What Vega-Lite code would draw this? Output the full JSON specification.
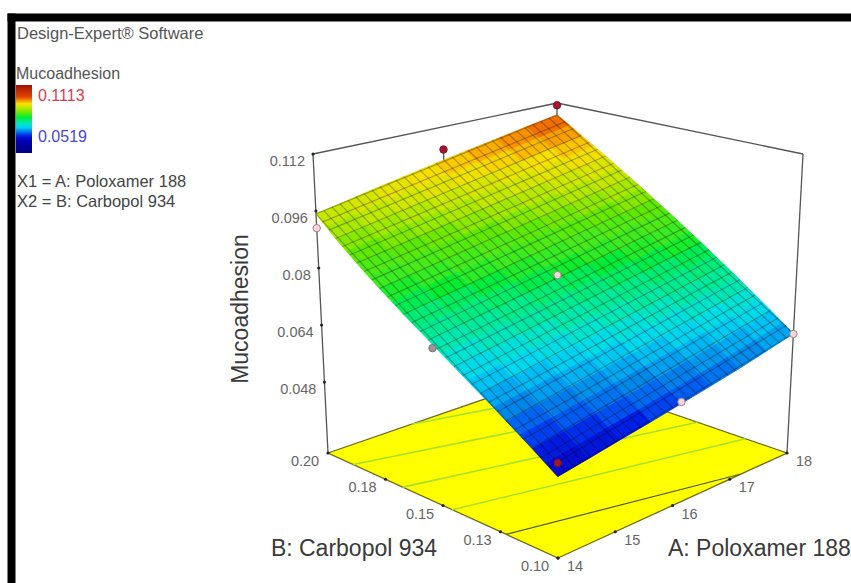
{"$schema":"https://vega.github.io/schema/vega-lite/v6.json","width":840,"height":566,"autosize":{"type":"none"},"padding":{"left":11,"top":17,"right":0,"bottom":0},"background":"white","config":{"view":{"stroke":null},"font":"Liberation Sans"},
"title":{"text":"Design-Expert® Software","subtitle":["X1 = A: Poloxamer 188","X2 = B: Carbopol 934"],"anchor":"start","frame":"group","offset":-193,"dx":6,"font":"Liberation Sans","fontSize":16.5,"fontWeight":"normal","color":"#555555","subtitleFont":"Liberation Sans","subtitleFontSize":16.5,"subtitleColor":"#444444","subtitlePadding":131,"subtitleLineHeight":20},
"data":{"values":[
{"k":"f","a":14,"b":0.1,"z":0.0281,"o":0},{"k":"f","a":18,"b":0.1,"z":0.0281,"o":1},{"k":"f","a":18,"b":0.2,"z":0.0281,"o":2},{"k":"f","a":14,"b":0.2,"z":0.0281,"o":3},
{"k":"c","a":14,"b":0.146,"z":0.0281,"a2":18,"b2":0.118,"z2":0.0281},{"k":"c","a":14,"b":0.1675,"z":0.0281,"a2":18,"b2":0.139,"z2":0.0281},{"k":"c","a":14,"b":0.189,"z":0.0281,"a2":18,"b2":0.161,"z2":0.0281},{"k":"c","a":15.46,"b":0.2,"z":0.0281,"a2":18,"b2":0.1822,"z2":0.0281},
{"k":"d","a":14,"b":0.1225,"z":0.0281,"a2":17.2,"b2":0.1,"z2":0.0281},
{"k":"e","a":14,"b":0.2,"z":0.0281,"a2":14,"b2":0.2,"z2":0.112},{"k":"e","a":18,"b":0.1,"z":0.0281,"a2":18,"b2":0.1,"z2":0.112},{"k":"e","a":14,"b":0.2,"z":0.112,"a2":18,"b2":0.2,"z2":0.112},{"k":"e","a":18,"b":0.2,"z":0.112,"a2":18,"b2":0.1,"z2":0.112},
{"k":"e","a":16.13,"b":0.2,"z":0.1053,"a2":16.13,"b2":0.2,"z2":0.1},{"k":"e","a":18,"b":0.2,"z":0.1113,"a2":18,"b2":0.2,"z2":0.1083},
{"k":"s","a":14,"b":0.1,"z":0.0485},{"k":"s","a":14.5,"b":0.1,"z":0.0501},{"k":"s","a":15,"b":0.1,"z":0.0518},{"k":"s","a":15.5,"b":0.1,"z":0.0534},{"k":"s","a":16,"b":0.1,"z":0.0551},{"k":"s","a":16.5,"b":0.1,"z":0.0567},{"k":"s","a":17,"b":0.1,"z":0.0583},{"k":"s","a":17.5,"b":0.1,"z":0.06},{"k":"s","a":18,"b":0.1,"z":0.0616},
{"k":"s","a":14,"b":0.105,"z":0.0508},{"k":"s","a":14.5,"b":0.105,"z":0.0524},{"k":"s","a":15,"b":0.105,"z":0.0541},{"k":"s","a":15.5,"b":0.105,"z":0.0557},{"k":"s","a":16,"b":0.105,"z":0.0574},{"k":"s","a":16.5,"b":0.105,"z":0.059},{"k":"s","a":17,"b":0.105,"z":0.0606},{"k":"s","a":17.5,"b":0.105,"z":0.0623},{"k":"s","a":18,"b":0.105,"z":0.0639},
{"k":"s","a":14,"b":0.11,"z":0.0532},{"k":"s","a":14.5,"b":0.11,"z":0.0548},{"k":"s","a":15,"b":0.11,"z":0.0565},{"k":"s","a":15.5,"b":0.11,"z":0.0581},{"k":"s","a":16,"b":0.11,"z":0.0598},{"k":"s","a":16.5,"b":0.11,"z":0.0614},{"k":"s","a":17,"b":0.11,"z":0.063},{"k":"s","a":17.5,"b":0.11,"z":0.0647},{"k":"s","a":18,"b":0.11,"z":0.0663},
{"k":"s","a":14,"b":0.115,"z":0.0555},{"k":"s","a":14.5,"b":0.115,"z":0.0571},{"k":"s","a":15,"b":0.115,"z":0.0588},{"k":"s","a":15.5,"b":0.115,"z":0.0604},{"k":"s","a":16,"b":0.115,"z":0.0621},{"k":"s","a":16.5,"b":0.115,"z":0.0637},{"k":"s","a":17,"b":0.115,"z":0.0653},{"k":"s","a":17.5,"b":0.115,"z":0.067},{"k":"s","a":18,"b":0.115,"z":0.0686},
{"k":"s","a":14,"b":0.12,"z":0.0578},{"k":"s","a":14.5,"b":0.12,"z":0.0594},{"k":"s","a":15,"b":0.12,"z":0.0611},{"k":"s","a":15.5,"b":0.12,"z":0.0627},{"k":"s","a":16,"b":0.12,"z":0.0644},{"k":"s","a":16.5,"b":0.12,"z":0.066},{"k":"s","a":17,"b":0.12,"z":0.0676},{"k":"s","a":17.5,"b":0.12,"z":0.0693},{"k":"s","a":18,"b":0.12,"z":0.0709},
{"k":"s","a":14,"b":0.125,"z":0.0602},{"k":"s","a":14.5,"b":0.125,"z":0.0618},{"k":"s","a":15,"b":0.125,"z":0.0635},{"k":"s","a":15.5,"b":0.125,"z":0.0651},{"k":"s","a":16,"b":0.125,"z":0.0668},{"k":"s","a":16.5,"b":0.125,"z":0.0684},{"k":"s","a":17,"b":0.125,"z":0.07},{"k":"s","a":17.5,"b":0.125,"z":0.0717},{"k":"s","a":18,"b":0.125,"z":0.0733},
{"k":"s","a":14,"b":0.13,"z":0.0625},{"k":"s","a":14.5,"b":0.13,"z":0.0641},{"k":"s","a":15,"b":0.13,"z":0.0658},{"k":"s","a":15.5,"b":0.13,"z":0.0674},{"k":"s","a":16,"b":0.13,"z":0.0691},{"k":"s","a":16.5,"b":0.13,"z":0.0707},{"k":"s","a":17,"b":0.13,"z":0.0723},{"k":"s","a":17.5,"b":0.13,"z":0.074},{"k":"s","a":18,"b":0.13,"z":0.0756},
{"k":"s","a":14,"b":0.135,"z":0.0648},{"k":"s","a":14.5,"b":0.135,"z":0.0664},{"k":"s","a":15,"b":0.135,"z":0.0681},{"k":"s","a":15.5,"b":0.135,"z":0.0697},{"k":"s","a":16,"b":0.135,"z":0.0714},{"k":"s","a":16.5,"b":0.135,"z":0.073},{"k":"s","a":17,"b":0.135,"z":0.0746},{"k":"s","a":17.5,"b":0.135,"z":0.0763},{"k":"s","a":18,"b":0.135,"z":0.0779},
{"k":"s","a":14,"b":0.14,"z":0.0672},{"k":"s","a":14.5,"b":0.14,"z":0.0688},{"k":"s","a":15,"b":0.14,"z":0.0705},{"k":"s","a":15.5,"b":0.14,"z":0.0721},{"k":"s","a":16,"b":0.14,"z":0.0738},{"k":"s","a":16.5,"b":0.14,"z":0.0754},{"k":"s","a":17,"b":0.14,"z":0.077},{"k":"s","a":17.5,"b":0.14,"z":0.0787},{"k":"s","a":18,"b":0.14,"z":0.0803},
{"k":"s","a":14,"b":0.145,"z":0.0695},{"k":"s","a":14.5,"b":0.145,"z":0.0711},{"k":"s","a":15,"b":0.145,"z":0.0728},{"k":"s","a":15.5,"b":0.145,"z":0.0744},{"k":"s","a":16,"b":0.145,"z":0.0761},{"k":"s","a":16.5,"b":0.145,"z":0.0777},{"k":"s","a":17,"b":0.145,"z":0.0793},{"k":"s","a":17.5,"b":0.145,"z":0.081},{"k":"s","a":18,"b":0.145,"z":0.0826},
{"k":"s","a":14,"b":0.15,"z":0.0719},{"k":"s","a":14.5,"b":0.15,"z":0.0735},{"k":"s","a":15,"b":0.15,"z":0.0752},{"k":"s","a":15.5,"b":0.15,"z":0.0768},{"k":"s","a":16,"b":0.15,"z":0.0785},{"k":"s","a":16.5,"b":0.15,"z":0.0801},{"k":"s","a":17,"b":0.15,"z":0.0817},{"k":"s","a":17.5,"b":0.15,"z":0.0834},{"k":"s","a":18,"b":0.15,"z":0.085},
{"k":"s","a":14,"b":0.155,"z":0.0742},{"k":"s","a":14.5,"b":0.155,"z":0.0758},{"k":"s","a":15,"b":0.155,"z":0.0775},{"k":"s","a":15.5,"b":0.155,"z":0.0791},{"k":"s","a":16,"b":0.155,"z":0.0808},{"k":"s","a":16.5,"b":0.155,"z":0.0824},{"k":"s","a":17,"b":0.155,"z":0.084},{"k":"s","a":17.5,"b":0.155,"z":0.0857},{"k":"s","a":18,"b":0.155,"z":0.0873},
{"k":"s","a":14,"b":0.16,"z":0.0765},{"k":"s","a":14.5,"b":0.16,"z":0.0781},{"k":"s","a":15,"b":0.16,"z":0.0798},{"k":"s","a":15.5,"b":0.16,"z":0.0814},{"k":"s","a":16,"b":0.16,"z":0.0831},{"k":"s","a":16.5,"b":0.16,"z":0.0847},{"k":"s","a":17,"b":0.16,"z":0.0863},{"k":"s","a":17.5,"b":0.16,"z":0.088},{"k":"s","a":18,"b":0.16,"z":0.0896},
{"k":"s","a":14,"b":0.165,"z":0.0789},{"k":"s","a":14.5,"b":0.165,"z":0.0805},{"k":"s","a":15,"b":0.165,"z":0.0822},{"k":"s","a":15.5,"b":0.165,"z":0.0838},{"k":"s","a":16,"b":0.165,"z":0.0855},{"k":"s","a":16.5,"b":0.165,"z":0.0871},{"k":"s","a":17,"b":0.165,"z":0.0887},{"k":"s","a":17.5,"b":0.165,"z":0.0904},{"k":"s","a":18,"b":0.165,"z":0.092},
{"k":"s","a":14,"b":0.17,"z":0.0812},{"k":"s","a":14.5,"b":0.17,"z":0.0828},{"k":"s","a":15,"b":0.17,"z":0.0845},{"k":"s","a":15.5,"b":0.17,"z":0.0861},{"k":"s","a":16,"b":0.17,"z":0.0878},{"k":"s","a":16.5,"b":0.17,"z":0.0894},{"k":"s","a":17,"b":0.17,"z":0.091},{"k":"s","a":17.5,"b":0.17,"z":0.0927},{"k":"s","a":18,"b":0.17,"z":0.0943},
{"k":"s","a":14,"b":0.175,"z":0.0835},{"k":"s","a":14.5,"b":0.175,"z":0.0851},{"k":"s","a":15,"b":0.175,"z":0.0868},{"k":"s","a":15.5,"b":0.175,"z":0.0884},{"k":"s","a":16,"b":0.175,"z":0.0901},{"k":"s","a":16.5,"b":0.175,"z":0.0917},{"k":"s","a":17,"b":0.175,"z":0.0933},{"k":"s","a":17.5,"b":0.175,"z":0.095},{"k":"s","a":18,"b":0.175,"z":0.0966},
{"k":"s","a":14,"b":0.18,"z":0.0859},{"k":"s","a":14.5,"b":0.18,"z":0.0875},{"k":"s","a":15,"b":0.18,"z":0.0892},{"k":"s","a":15.5,"b":0.18,"z":0.0908},{"k":"s","a":16,"b":0.18,"z":0.0925},{"k":"s","a":16.5,"b":0.18,"z":0.0941},{"k":"s","a":17,"b":0.18,"z":0.0957},{"k":"s","a":17.5,"b":0.18,"z":0.0974},{"k":"s","a":18,"b":0.18,"z":0.099},
{"k":"s","a":14,"b":0.185,"z":0.0882},{"k":"s","a":14.5,"b":0.185,"z":0.0898},{"k":"s","a":15,"b":0.185,"z":0.0915},{"k":"s","a":15.5,"b":0.185,"z":0.0931},{"k":"s","a":16,"b":0.185,"z":0.0948},{"k":"s","a":16.5,"b":0.185,"z":0.0964},{"k":"s","a":17,"b":0.185,"z":0.098},{"k":"s","a":17.5,"b":0.185,"z":0.0997},{"k":"s","a":18,"b":0.185,"z":0.1013},
{"k":"s","a":14,"b":0.19,"z":0.0905},{"k":"s","a":14.5,"b":0.19,"z":0.0921},{"k":"s","a":15,"b":0.19,"z":0.0938},{"k":"s","a":15.5,"b":0.19,"z":0.0954},{"k":"s","a":16,"b":0.19,"z":0.0971},{"k":"s","a":16.5,"b":0.19,"z":0.0987},{"k":"s","a":17,"b":0.19,"z":0.1003},{"k":"s","a":17.5,"b":0.19,"z":0.102},{"k":"s","a":18,"b":0.19,"z":0.1036},
{"k":"s","a":14,"b":0.195,"z":0.0929},{"k":"s","a":14.5,"b":0.195,"z":0.0945},{"k":"s","a":15,"b":0.195,"z":0.0962},{"k":"s","a":15.5,"b":0.195,"z":0.0978},{"k":"s","a":16,"b":0.195,"z":0.0995},{"k":"s","a":16.5,"b":0.195,"z":0.1011},{"k":"s","a":17,"b":0.195,"z":0.1027},{"k":"s","a":17.5,"b":0.195,"z":0.1044},{"k":"s","a":18,"b":0.195,"z":0.106},
{"k":"s","a":14,"b":0.2,"z":0.0952},{"k":"s","a":14.5,"b":0.2,"z":0.0968},{"k":"s","a":15,"b":0.2,"z":0.0985},{"k":"s","a":15.5,"b":0.2,"z":0.1001},{"k":"s","a":16,"b":0.2,"z":0.1018},{"k":"s","a":16.5,"b":0.2,"z":0.1034},{"k":"s","a":17,"b":0.2,"z":0.105},{"k":"s","a":17.5,"b":0.2,"z":0.1067},{"k":"s","a":18,"b":0.2,"z":0.1083},
{"k":"m","a":14,"b":0.1,"z":0.0485,"a2":14,"b2":0.2,"z2":0.0952},{"k":"m","a":14.133,"b":0.1,"z":0.0489,"a2":14.133,"b2":0.2,"z2":0.0956},{"k":"m","a":14.267,"b":0.1,"z":0.0494,"a2":14.267,"b2":0.2,"z2":0.0961},{"k":"m","a":14.4,"b":0.1,"z":0.0498,"a2":14.4,"b2":0.2,"z2":0.0965},{"k":"m","a":14.533,"b":0.1,"z":0.0502,"a2":14.533,"b2":0.2,"z2":0.0969},{"k":"m","a":14.667,"b":0.1,"z":0.0507,"a2":14.667,"b2":0.2,"z2":0.0974},{"k":"m","a":14.8,"b":0.1,"z":0.0511,"a2":14.8,"b2":0.2,"z2":0.0978},{"k":"m","a":14.933,"b":0.1,"z":0.0516,"a2":14.933,"b2":0.2,"z2":0.0983},{"k":"m","a":15.067,"b":0.1,"z":0.052,"a2":15.067,"b2":0.2,"z2":0.0987},{"k":"m","a":15.2,"b":0.1,"z":0.0524,"a2":15.2,"b2":0.2,"z2":0.0991},{"k":"m","a":15.333,"b":0.1,"z":0.0529,"a2":15.333,"b2":0.2,"z2":0.0996},{"k":"m","a":15.467,"b":0.1,"z":0.0533,"a2":15.467,"b2":0.2,"z2":0.1},{"k":"m","a":15.6,"b":0.1,"z":0.0537,"a2":15.6,"b2":0.2,"z2":0.1004},{"k":"m","a":15.733,"b":0.1,"z":0.0542,"a2":15.733,"b2":0.2,"z2":0.1009},{"k":"m","a":15.867,"b":0.1,"z":0.0546,"a2":15.867,"b2":0.2,"z2":0.1013},{"k":"m","a":16,"b":0.1,"z":0.0551,"a2":16,"b2":0.2,"z2":0.1018},{"k":"m","a":16.133,"b":0.1,"z":0.0555,"a2":16.133,"b2":0.2,"z2":0.1022},{"k":"m","a":16.267,"b":0.1,"z":0.0559,"a2":16.267,"b2":0.2,"z2":0.1026},{"k":"m","a":16.4,"b":0.1,"z":0.0564,"a2":16.4,"b2":0.2,"z2":0.1031},{"k":"m","a":16.533,"b":0.1,"z":0.0568,"a2":16.533,"b2":0.2,"z2":0.1035},{"k":"m","a":16.667,"b":0.1,"z":0.0572,"a2":16.667,"b2":0.2,"z2":0.1039},{"k":"m","a":16.8,"b":0.1,"z":0.0577,"a2":16.8,"b2":0.2,"z2":0.1044},{"k":"m","a":16.933,"b":0.1,"z":0.0581,"a2":16.933,"b2":0.2,"z2":0.1048},{"k":"m","a":17.067,"b":0.1,"z":0.0586,"a2":17.067,"b2":0.2,"z2":0.1053},{"k":"m","a":17.2,"b":0.1,"z":0.059,"a2":17.2,"b2":0.2,"z2":0.1057},{"k":"m","a":17.333,"b":0.1,"z":0.0594,"a2":17.333,"b2":0.2,"z2":0.1061},{"k":"m","a":17.467,"b":0.1,"z":0.0599,"a2":17.467,"b2":0.2,"z2":0.1066},{"k":"m","a":17.6,"b":0.1,"z":0.0603,"a2":17.6,"b2":0.2,"z2":0.107},{"k":"m","a":17.733,"b":0.1,"z":0.0607,"a2":17.733,"b2":0.2,"z2":0.1074},{"k":"m","a":17.867,"b":0.1,"z":0.0612,"a2":17.867,"b2":0.2,"z2":0.1079},{"k":"m","a":18,"b":0.1,"z":0.0616,"a2":18,"b2":0.2,"z2":0.1083},
{"k":"m","a":14,"b":0.1,"z":0.0485,"a2":18,"b2":0.1,"z2":0.0616},{"k":"m","a":14,"b":0.1033,"z":0.0501,"a2":18,"b2":0.1033,"z2":0.0632},{"k":"m","a":14,"b":0.1067,"z":0.0516,"a2":18,"b2":0.1067,"z2":0.0647},{"k":"m","a":14,"b":0.11,"z":0.0532,"a2":18,"b2":0.11,"z2":0.0663},{"k":"m","a":14,"b":0.1133,"z":0.0547,"a2":18,"b2":0.1133,"z2":0.0678},{"k":"m","a":14,"b":0.1167,"z":0.0563,"a2":18,"b2":0.1167,"z2":0.0694},{"k":"m","a":14,"b":0.12,"z":0.0578,"a2":18,"b2":0.12,"z2":0.0709},{"k":"m","a":14,"b":0.1233,"z":0.0594,"a2":18,"b2":0.1233,"z2":0.0725},{"k":"m","a":14,"b":0.1267,"z":0.061,"a2":18,"b2":0.1267,"z2":0.0741},{"k":"m","a":14,"b":0.13,"z":0.0625,"a2":18,"b2":0.13,"z2":0.0756},{"k":"m","a":14,"b":0.1333,"z":0.0641,"a2":18,"b2":0.1333,"z2":0.0772},{"k":"m","a":14,"b":0.1367,"z":0.0656,"a2":18,"b2":0.1367,"z2":0.0787},{"k":"m","a":14,"b":0.14,"z":0.0672,"a2":18,"b2":0.14,"z2":0.0803},{"k":"m","a":14,"b":0.1433,"z":0.0687,"a2":18,"b2":0.1433,"z2":0.0818},{"k":"m","a":14,"b":0.1467,"z":0.0703,"a2":18,"b2":0.1467,"z2":0.0834},{"k":"m","a":14,"b":0.15,"z":0.0719,"a2":18,"b2":0.15,"z2":0.085},{"k":"m","a":14,"b":0.1533,"z":0.0734,"a2":18,"b2":0.1533,"z2":0.0865},{"k":"m","a":14,"b":0.1567,"z":0.075,"a2":18,"b2":0.1567,"z2":0.0881},{"k":"m","a":14,"b":0.16,"z":0.0765,"a2":18,"b2":0.16,"z2":0.0896},{"k":"m","a":14,"b":0.1633,"z":0.0781,"a2":18,"b2":0.1633,"z2":0.0912},{"k":"m","a":14,"b":0.1667,"z":0.0796,"a2":18,"b2":0.1667,"z2":0.0927},{"k":"m","a":14,"b":0.17,"z":0.0812,"a2":18,"b2":0.17,"z2":0.0943},{"k":"m","a":14,"b":0.1733,"z":0.0828,"a2":18,"b2":0.1733,"z2":0.0959},{"k":"m","a":14,"b":0.1767,"z":0.0843,"a2":18,"b2":0.1767,"z2":0.0974},{"k":"m","a":14,"b":0.18,"z":0.0859,"a2":18,"b2":0.18,"z2":0.099},{"k":"m","a":14,"b":0.1833,"z":0.0874,"a2":18,"b2":0.1833,"z2":0.1005},{"k":"m","a":14,"b":0.1867,"z":0.089,"a2":18,"b2":0.1867,"z2":0.1021},{"k":"m","a":14,"b":0.19,"z":0.0905,"a2":18,"b2":0.19,"z2":0.1036},{"k":"m","a":14,"b":0.1933,"z":0.0921,"a2":18,"b2":0.1933,"z2":0.1052},{"k":"m","a":14,"b":0.1967,"z":0.0936,"a2":18,"b2":0.1967,"z2":0.1067},{"k":"m","a":14,"b":0.2,"z":0.0952,"a2":18,"b2":0.2,"z2":0.1083},
{"k":"p","a":18,"b":0.2,"z":0.1113,"g":"above"},{"k":"p","a":16.13,"b":0.2,"z":0.1053,"g":"above"},{"k":"p","a":14,"b":0.1,"z":0.0519,"g":"above"},{"k":"p","a":14,"b":0.2,"z":0.0912,"g":"below"},{"k":"p","a":14.05,"b":0.15,"z":0.0695,"g":"hidden"},{"k":"p","a":16,"b":0.15,"z":0.0795,"g":"below"},{"k":"p","a":18,"b":0.1,"z":0.0615,"g":"below"},{"k":"p","a":16,"b":0.1,"z":0.0555,"g":"below"},
{"k":"tz","a":14,"b":0.2,"z":0.112,"t":"0.112"},{"k":"tz","a":14,"b":0.2,"z":0.096,"t":"0.096"},{"k":"tz","a":14,"b":0.2,"z":0.08,"t":"0.08"},{"k":"tz","a":14,"b":0.2,"z":0.064,"t":"0.064"},{"k":"tz","a":14,"b":0.2,"z":0.048,"t":"0.048"},
{"k":"tb","a":14,"b":0.2,"z":0.0281,"t":"0.20"},{"k":"tb","a":14,"b":0.175,"z":0.0281,"t":"0.18"},{"k":"tb","a":14,"b":0.15,"z":0.0281,"t":"0.15"},{"k":"tb","a":14,"b":0.125,"z":0.0281,"t":"0.13"},{"k":"tb","a":14,"b":0.1,"z":0.0281,"t":"0.10"},
{"k":"ta","a":14,"b":0.1,"z":0.0281,"t":"14"},{"k":"ta","a":15,"b":0.1,"z":0.0281,"t":"15"},{"k":"ta","a":16,"b":0.1,"z":0.0281,"t":"16"},{"k":"ta","a":17,"b":0.1,"z":0.0281,"t":"17"},{"k":"ta","a":18,"b":0.1,"z":0.0281,"t":"18"},
{"k":"xa","a":16,"b":0.1,"z":0.0281,"t":"A: Poloxamer 188"},{"k":"xb","a":14,"b":0.15,"z":0.0281,"t":"B: Carbopol 934"},{"k":"xz","a":14,"b":0.2,"z":0.08,"t":"Mucoadhesion"}
]},
"transform":[
{"calculate":"(datum.a-14)/4","as":"u"},{"calculate":"(datum.b-0.1)/0.1","as":"v"},{"calculate":"(datum.z-0.0281)/0.0839","as":"w"},
{"calculate":"(1-datum.w)*(558*(1-datum.u)*(1-datum.v)+787*datum.u*(1-datum.v)+328*(1-datum.u)*datum.v+557*datum.u*datum.v)+datum.w*(557*(1-datum.u)*(1-datum.v)+803*datum.u*(1-datum.v)+313*(1-datum.u)*datum.v+557*datum.u*datum.v)+80*datum.w*(datum.u*(1-datum.u)*(1-datum.v)-datum.v*(1-datum.v)*(1-datum.u))","as":"px"},
{"calculate":"(1-datum.w)*(558*(1-datum.u)*(1-datum.v)+453*datum.u*(1-datum.v)+453*(1-datum.u)*datum.v+374*datum.u*datum.v)+datum.w*(223*(1-datum.u)*(1-datum.v)+154*datum.u*(1-datum.v)+154*(1-datum.u)*datum.v+103*datum.u*datum.v)","as":"py"},
{"calculate":"(datum.a2-14)/4","as":"u2"},{"calculate":"(datum.b2-0.1)/0.1","as":"v2"},{"calculate":"(datum.z2-0.0281)/0.0839","as":"w2"},
{"calculate":"(1-datum.w2)*(558*(1-datum.u2)*(1-datum.v2)+787*datum.u2*(1-datum.v2)+328*(1-datum.u2)*datum.v2+557*datum.u2*datum.v2)+datum.w2*(557*(1-datum.u2)*(1-datum.v2)+803*datum.u2*(1-datum.v2)+313*(1-datum.u2)*datum.v2+557*datum.u2*datum.v2)+80*datum.w2*(datum.u2*(1-datum.u2)*(1-datum.v2)-datum.v2*(1-datum.v2)*(1-datum.u2))","as":"px2"},
{"calculate":"(1-datum.w2)*(558*(1-datum.u2)*(1-datum.v2)+453*datum.u2*(1-datum.v2)+453*(1-datum.u2)*datum.v2+374*datum.u2*datum.v2)+datum.w2*(223*(1-datum.u2)*(1-datum.v2)+154*datum.u2*(1-datum.v2)+154*(1-datum.u2)*datum.v2+103*datum.u2*datum.v2)","as":"py2"}
],
"encoding":{
"x":{"field":"px","type":"quantitative","scale":{"domain":[11,851],"nice":false,"zero":false},"axis":{"orient":"top","title":null,"labels":false,"ticks":false,"grid":false,"domainColor":"black","domainWidth":8,"domainCap":"square"}},
"y":{"field":"py","type":"quantitative","scale":{"domain":[583,17],"nice":false,"zero":false},"axis":{"orient":"left","title":null,"labels":false,"ticks":false,"grid":false,"domainColor":"black","domainWidth":8,"domainCap":"square"}}
},
"layer":[
{"transform":[{"filter":"datum.k==='f'"}],"mark":{"type":"line","interpolate":"linear-closed","fill":"#ffff00","stroke":"#6b6b20","strokeWidth":1.3},"encoding":{"order":{"field":"o"}}},
{"transform":[{"filter":"datum.k==='c'"}],"mark":{"type":"rule","stroke":"#a8e030","strokeWidth":1.6},"encoding":{"x2":{"field":"px2"},"y2":{"field":"py2"}}},
{"transform":[{"filter":"datum.k==='d'"}],"mark":{"type":"rule","stroke":"#4c5c28","strokeWidth":1.2},"encoding":{"x2":{"field":"px2"},"y2":{"field":"py2"}}},
{"transform":[{"filter":"datum.k==='e'"}],"mark":{"type":"rule","stroke":"#555555","strokeWidth":1.3},"encoding":{"x2":{"field":"px2"},"y2":{"field":"py2"}}},
{"transform":[{"filter":"datum.k==='s'"},{"calculate":"round((datum.a-14)/0.5)","as":"i"},{"calculate":"round((datum.b-0.1)/0.005)","as":"j"},{"calculate":"[datum.i,datum.i-1,datum.i-1,datum.i]","as":"ci"},{"calculate":"[datum.j,datum.j,datum.j-1,datum.j-1]","as":"cj"},{"calculate":"[0,1,2,3]","as":"o"},{"flatten":["ci","cj","o"]},{"filter":"datum.ci>=0&&datum.ci<8&&datum.cj>=0&&datum.cj<20"},{"calculate":"datum.ci*100+datum.cj","as":"cell"},{"joinaggregate":[{"op":"mean","field":"z","as":"zc"}],"groupby":["cell"]}],
"mark":{"type":"line","interpolate":"linear-closed","strokeWidth":0.8},
"encoding":{"detail":{"field":"cell","type":"nominal"},"order":{"field":"o"},
"fill":{"field":"zc","type":"quantitative","scale":{"domain":[0.0281,0.0485,0.054,0.06,0.066,0.072,0.08,0.088,0.095,0.1,0.104,0.108,0.1271],"range":["#000080","#0000c0","#0020e8","#0088e8","#00d8f0","#00e8a8","#00ec30","#60e800","#c8e800","#f8e000","#f8a000","#e84800","#a01000"]},
"legend":{"type":"gradient","title":"Mucoadhesion","orient":"none","legendX":5,"legendY":49,"gradientLength":68,"gradientThickness":16,"values":[0.1113,0.0519],"format":".4f","labelFontSize":16,"labelFont":"Liberation Sans","titleFont":"Liberation Sans","titleFontSize":16,"titleFontWeight":"normal","titleColor":"#555555","titlePadding":3,"labelOffset":6,"labelOverlap":false,"gradientStrokeWidth":0,"encode":{"labels":{"update":{"fill":{"signal":"datum.value>0.08?'#d84050':'#4848d0'"}}}}}},
"stroke":{"field":"zc","type":"quantitative","scale":{"domain":[0.028,0.0485,0.054,0.06,0.066,0.072,0.08,0.088,0.095,0.1,0.104,0.108,0.127],"range":["#000080","#0000c0","#0020e8","#0088e8","#00d8f0","#00e8a8","#00ec30","#60e800","#c8e800","#f8e000","#f8a000","#e84800","#a01000"]},"legend":null}}},
{"transform":[{"filter":"datum.k==='m'"}],"mark":{"type":"rule","stroke":"#000000","strokeOpacity":0.28,"strokeWidth":1.2},"encoding":{"x2":{"field":"px2"},"y2":{"field":"py2"}}},
{"transform":[{"filter":"datum.k==='p'"}],"mark":{"type":"point","filled":true,"size":55,"strokeWidth":1,"opacity":1},"encoding":{"fill":{"field":"g","type":"nominal","scale":{"domain":["above","below","hidden"],"range":["#a01830","#f0d8dc","#a09898"]},"legend":null},"stroke":{"field":"g","type":"nominal","scale":{"domain":["above","below","hidden"],"range":["#801020","#a88088","#707070"]},"legend":null}}},
{"transform":[{"filter":"datum.k==='tz'||datum.k==='tb'||datum.k==='ta'"}],"mark":{"type":"point","filled":true,"size":10,"color":"#222222","opacity":1}},
{"transform":[{"filter":"datum.k==='tz'"}],"mark":{"type":"text","align":"right","baseline":"middle","dx":-8,"dy":8,"fontSize":14.5,"fill":"#666666"},"encoding":{"text":{"field":"t"}}},
{"transform":[{"filter":"datum.k==='tb'"}],"mark":{"type":"text","align":"center","baseline":"middle","dx":-23,"dy":9,"fontSize":14.5,"fill":"#666666"},"encoding":{"text":{"field":"t"}}},
{"transform":[{"filter":"datum.k==='ta'"}],"mark":{"type":"text","align":"center","baseline":"middle","dx":17,"dy":9,"fontSize":14.5,"fill":"#666666"},"encoding":{"text":{"field":"t"}}},
{"transform":[{"filter":"datum.k==='xa'"}],"mark":{"type":"text","align":"left","baseline":"middle","dx":-4.5,"dy":43,"fontSize":23,"fill":"#3a3a3a"},"encoding":{"text":{"field":"t"}}},
{"transform":[{"filter":"datum.k==='xb'"}],"mark":{"type":"text","align":"center","baseline":"middle","dx":-89,"dy":43,"fontSize":23,"fill":"#3a3a3a"},"encoding":{"text":{"field":"t"}}},
{"transform":[{"filter":"datum.k==='xz'"}],"mark":{"type":"text","align":"center","baseline":"middle","angle":270,"dx":-41,"dy":-78,"fontSize":23,"fill":"#3a3a3a"},"encoding":{"text":{"field":"t"}}}
]}
